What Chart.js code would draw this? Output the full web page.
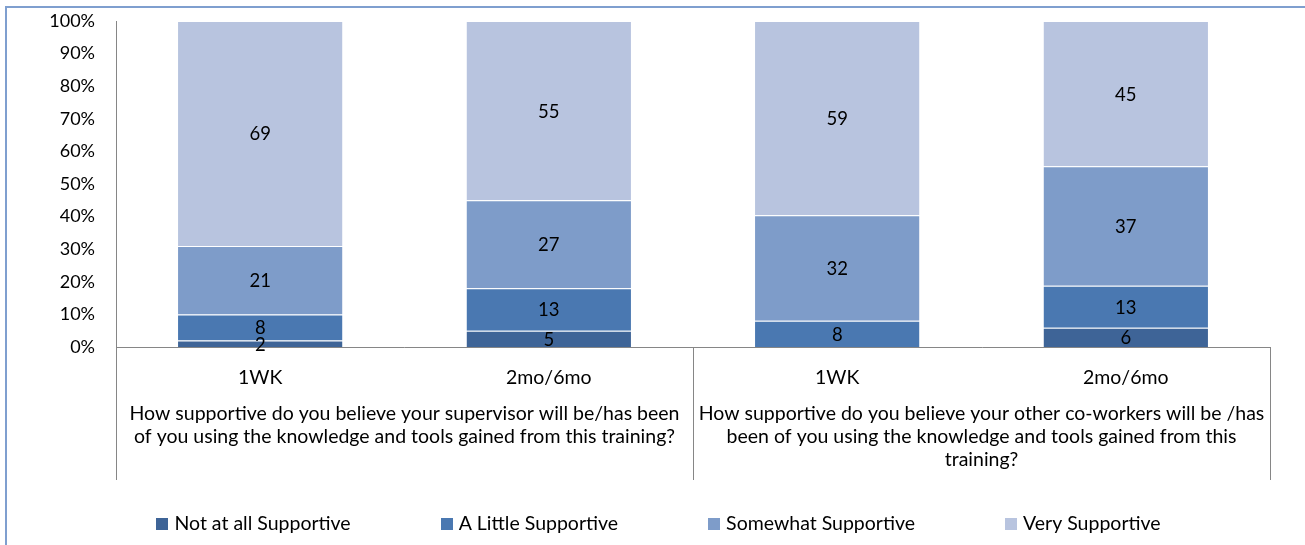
<!DOCTYPE html>
<html>
<head>
<meta charset="utf-8">
<script src="https://cdn.jsdelivr.net/npm/chart.js@4"></script>
<style>
  body { margin: 0; background: #fff; }
  #wrap { position: relative; width: 1305px; height: 545px; }
</style>
</head>
<body>
<div id="wrap"><canvas id="myChart"></canvas></div>
<script>
var categories = ['1WK', '2mo/6mo', '1WK', '2mo/6mo'];
var groupLabels = [
    ['How supportive do you believe your supervisor will be/has been', 'of you using the knowledge and tools gained from this training?'],
    ['How supportive do you believe your other co-workers will be /has', 'been of you using the knowledge and tools gained from this', 'training?']
];
var seriesNames = ['Not at all Supportive', 'A Little Supportive', 'Somewhat Supportive', 'Very Supportive'];
var notAtAll = [2, 5, 0, 6];
var aLittle = [8, 13, 8, 13];
var somewhat = [21, 27, 32, 37];
var very = [69, 55, 59, 45];
var yTicks = [0, 10, 20, 30, 40, 50, 60, 70, 80, 90, 100];

var colors = ['#3E6497', '#4A78B1', '#7E9CC9', '#B8C4DF'];
var FONT = 'Lato, "Open Sans", sans-serif';

// 100% stacked: each bar is shown as its share of the bar total
var raw = [notAtAll, aLittle, somewhat, very];
var totals = categories.map(function (c, i) {
    return raw.reduce(function (s, arr) { return s + arr[i]; }, 0);
});
var datasets = raw.map(function (arr, k) {
    return {
        label: seriesNames[k],
        data: arr.map(function (v, i) { return v / totals[i] * 100; }),
        labelValues: arr,
        backgroundColor: colors[k],
        borderColor: 'rgba(255,255,255,0.6)',
        borderWidth: { top: 1, bottom: 0, left: 0, right: 0 },
        borderSkipped: false,
        barPercentage: 0.57,
        categoryPercentage: 1
    };
});

var valueLabels = {
    id: 'valueLabels',
    afterDatasetsDraw: function (chart) {
        var ctx = chart.ctx;
        ctx.save();
        ctx.font = '18.5px ' + FONT;
        ctx.fillStyle = '#000';
        ctx.textAlign = 'center';
        ctx.textBaseline = 'middle';
        chart.data.datasets.forEach(function (ds, k) {
            chart.getDatasetMeta(k).data.forEach(function (bar, i) {
                var v = ds.labelValues[i];
                if (!v) return;
                ctx.fillText(String(v), bar.x, (bar.y + bar.base) / 2 + 1);
            });
        });
        ctx.restore();
    }
};

var categoryTable = {
    id: 'categoryTable',
    beforeDraw: function (chart) {
        var ctx = chart.ctx;
        ctx.save();
        ctx.strokeStyle = '#7F9FCF';
        ctx.lineWidth = 2;
        ctx.strokeRect(6, 7, 1320, 560);
        ctx.restore();
    },
    afterDraw: function (chart) {
        var ctx = chart.ctx, a = chart.chartArea, x = chart.scales.x;
        var bottom = a.bottom + 133;
        ctx.save();
        ctx.strokeStyle = '#868686';
        ctx.lineWidth = 1;
        var mid = (x.getPixelForValue(1) + x.getPixelForValue(2)) / 2;
        [a.left, mid, a.right].forEach(function (px, j) {
            ctx.beginPath();
            ctx.moveTo(Math.round(px) + 0.5, j === 0 ? a.top : a.bottom);
            ctx.lineTo(Math.round(px) + 0.5, bottom);
            ctx.stroke();
        });
        ctx.font = '19.5px ' + FONT;
        ctx.fillStyle = '#000';
        ctx.textAlign = 'center';
        ctx.textBaseline = 'middle';
        categories.forEach(function (c, i) {
            ctx.fillText(c, x.getPixelForValue(i), a.bottom + 31);
        });
        groupLabels.forEach(function (lines, g) {
            var cx = (x.getPixelForValue(g * 2) + x.getPixelForValue(g * 2 + 1)) / 2;
            lines.forEach(function (line, l) {
                ctx.fillText(line, cx, a.bottom + 67 + l * 23);
            });
        });

        // legend row along the bottom
        var box = 12, gap = 6, space = 90, legY = 524;
        var widths = seriesNames.map(function (n) { return box + gap + ctx.measureText(n).width; });
        var total = widths.reduce(function (s, w) { return s + w; }, 0) + space * (widths.length - 1);
        var lx = 658.5 - total / 2;
        ctx.textAlign = 'left';
        seriesNames.forEach(function (n, k) {
            ctx.fillStyle = colors[k];
            ctx.fillRect(Math.round(lx), legY - 6, box, box);
            ctx.fillStyle = '#000';
            ctx.fillText(n, lx + box + gap, legY);
            lx += widths[k] + space;
        });
        ctx.restore();
    }
};

var ctx = document.getElementById('myChart').getContext('2d');
var myChart = new Chart(ctx, {
    type: 'bar',
    data: {
        labels: categories,
        datasets: datasets
    },
    options: {
        responsive: true,
        maintainAspectRatio: false,
        animation: false,
        layout: { padding: { top: 21, right: 35, left: 0, bottom: 65 } },
        plugins: {
            legend: { display: false },
            tooltip: { enabled: false }
        },
        scales: {
            x: {
                stacked: true,
                grid: { display: false },
                border: { display: true, color: '#868686' },
                ticks: { display: false },
                afterFit: function (scale) {
                    scale.height = 133;
                    scale.paddingLeft = 0; scale.paddingRight = 0;
                }
            },
            y: {
                stacked: true,
                min: 0,
                max: 100,
                afterBuildTicks: function (scale) {
                    scale.ticks = yTicks.map(function (v) { return { value: v }; });
                },
                grid: { display: false, drawTicks: false },
                border: { display: true, color: '#868686' },
                ticks: {
                    padding: 21,
                    color: '#000',
                    font: { family: FONT, size: 18 },
                    callback: function (v) { return v + '%'; }
                },
                afterFit: function (scale) {
                    scale.width = 116;
                    scale.paddingTop = 0; scale.paddingBottom = 0;
                }
            }
        }
    },
    plugins: [valueLabels, categoryTable]
});
</script>
</body>
</html>
